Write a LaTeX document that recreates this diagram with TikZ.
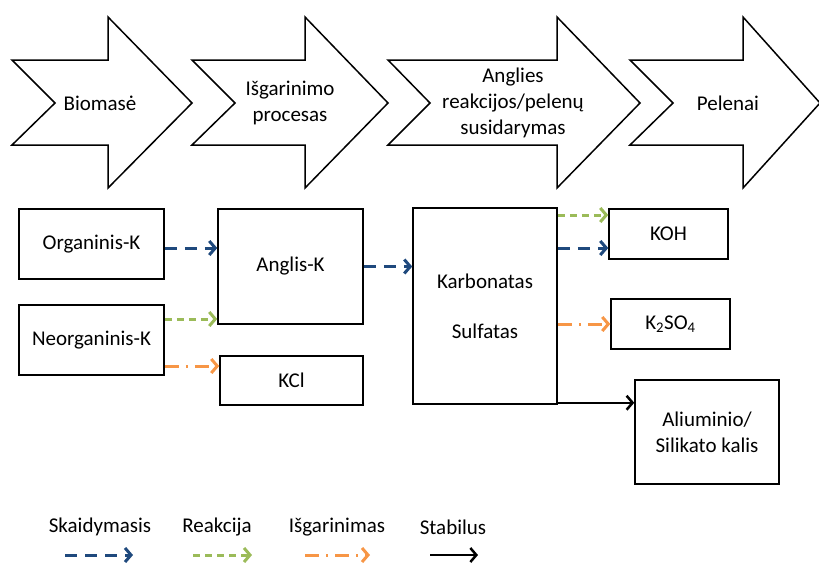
\documentclass[tikz,border=0pt]{standalone}
\usepackage{fontspec}
\setmainfont{Carlito}
\usepackage{xcolor}
\usetikzlibrary{arrows.meta,calc}
\definecolor{skblue}{HTML}{1F497D}
\definecolor{rkgreen}{HTML}{9BBB59}
\definecolor{isorange}{HTML}{F79646}
\tikzset{>={Straight Barb[length=6pt,width=14pt]}}

\begin{document}
\begin{tikzpicture}[x=1pt, y=-1pt, font=\fontsize{21}{26}\selectfont,
        box/.style={draw, line width=1.5pt, inner sep=0pt, align=center},
        skaid/.style={->, skblue, line width=3pt, dash pattern=on 12pt off 8pt},
        reakc/.style={->, rkgreen, line width=3pt, dash pattern=on 7pt off 5pt},
        isgar/.style={->, isorange, line width=3pt, dash pattern=on 14pt off 7pt on 2pt off 7pt},
        stab/.style={->, black, line width=2.5pt}]
        \useasboundingbox (0, 0) rectangle (819, 563);
        % process chevrons
        \foreach \a/\b/\c/\d in {12/55/108/192, 192/235/305/388, 388/430/557/640, 630/673/743/820} {
          \draw[line width=1.5pt, line join=miter] (\a, 60) -- (\c, 60) -- (\c, 17) -- (\d, 103)
            -- (\c, 188) -- (\c, 145) -- (\a, 145) -- (\b, 103) -- cycle;
        }
        \node[align=center] (bio) at (100, 103) {Biomasė};
        \node[align=center] (isg) at (290, 103) {Išgarinimo\\procesas};
        \node[align=center] (angl) at (513, 103) {Anglies\\reakcijos/pelenų\\susidarymas};
        \node[align=center] (pel) at (728, 103) {Pelenai};
        % boxes
        \node[box, minimum width=145pt, minimum height=70pt] (org) at (91.5, 244) {Organinis-K};
        \node[box, minimum width=145pt, minimum height=70pt] (neo) at (91.5, 340) {Neorganinis-K};
        \node[box, minimum width=145pt, minimum height=115pt] (ang) at (290.5, 266.5) {Anglis-K};
        \node[box, minimum width=143pt, minimum height=49pt] (kcl) at (291.5, 380.5) {KCl};
        \node[box, minimum width=144pt, minimum height=196pt] (karb) at (485, 306) {Karbonatas\\[24pt]Sulfatas};
        \node[box, minimum width=119pt, minimum height=50pt] (koh) at (668.5, 234) {KOH};
        \node[box, minimum width=119pt, minimum height=50pt] (kso) at (670.5, 324) {K\textsubscript{2}SO\textsubscript{4}};
        \node[box, minimum width=144pt, minimum height=104pt] (alu) at (707, 432) {Aliuminio/\\Silikato kalis};
        % transitions
        \draw[skaid] ([yshift=-4pt]org.east) -- ([yshift=-4pt]org.east -| ang.west);
        \draw[reakc] ([yshift=21pt]neo.east) -- ([yshift=21pt]neo.east -| ang.west);
        \draw[isgar] ([yshift=-26pt]neo.east) -- ([yshift=-26pt]neo.east -| kcl.west);
        \draw[skaid] (ang.east) -- (ang.east -| karb.west);
        \draw[reakc] ([yshift=19pt]koh.west -| karb.east) -- ([yshift=19pt]koh.west);
        \draw[skaid] ([yshift=-14pt]koh.west -| karb.east) -- ([yshift=-14pt]koh.west);
        \draw[isgar] (kso.west -| karb.east) -- (kso.west);
        \draw[stab] ([yshift=2pt]karb.south east) -- ([yshift=2pt]karb.south east -| alu.west);
        % legend
        \foreach \i/\x/\xa/\xb/\st/\txt in {1/100/65/133/skaid/Skaidymasis, 2/217/193/252/reakc/Reakcija,
            3/337/305/370/isgar/Išgarinimas, 4/453/430/478/stab/Stabilus} {
          \node (lg\i) at (\x, 527) {\txt};
          \coordinate (la\i) at (\xa, 555);
          \coordinate (lb\i) at (\xb, 555);
          \draw[\st] (la\i) -- (lb\i);
        }
      \end{tikzpicture}
\end{document}
